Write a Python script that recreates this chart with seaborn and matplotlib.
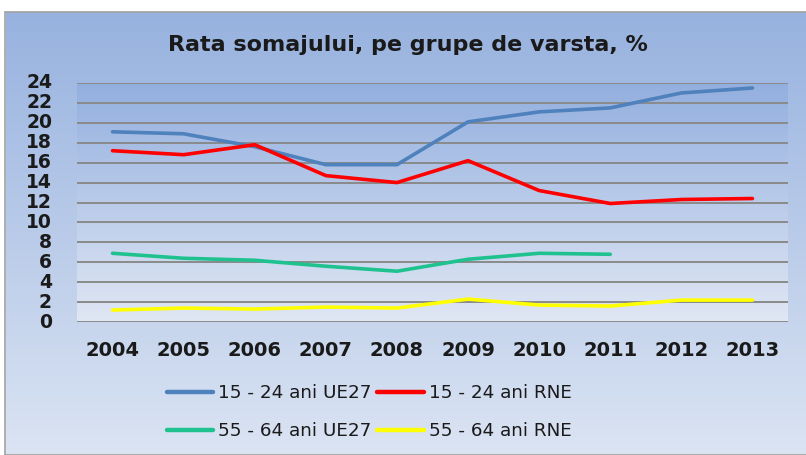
import numpy as np
import pandas as pd
import seaborn as sns
import matplotlib.pyplot as plt
from matplotlib.colors import LinearSegmentedColormap
from matplotlib.patches import Rectangle

# --- Data ---
years = [2004, 2005, 2006, 2007, 2008, 2009, 2010, 2011, 2012, 2013]
ue27_15_24 = [19.1, 18.9, 17.6, 15.8, 15.8, 20.1, 21.1, 21.5, 23.0, 23.5]
rne_15_24 = [17.2, 16.8, 17.8, 14.7, 14.0, 16.2, 13.2, 11.9, 12.3, 12.4]
ue27_55_64 = [6.9, 6.4, 6.2, 5.6, 5.1, 6.3, 6.9, 6.8, np.nan, np.nan]
rne_55_64 = [1.2, 1.4, 1.3, 1.5, 1.4, 2.3, 1.7, 1.6, 2.2, 2.2]

series_names = ['15 - 24 ani UE27', '15 - 24 ani RNE', '55 - 64 ani UE27', '55 - 64 ani RNE']
series_colors = ['#4f81bd', '#ff0000', '#1fc28f', '#ffff00']
y_ticks = list(range(0, 25, 2))

df = pd.DataFrame({
    'year': years * 4,
    'value': ue27_15_24 + rne_15_24 + ue27_55_64 + rne_55_64,
    'serie': sum([[n] * len(years) for n in series_names], []),
})

# --- Appearance ---
sns.set_theme(style="white")
plt.rcParams['font.family'] = ['DejaVu Sans']
plt.rcParams['text.color'] = '#1a1a1a'

fig = plt.figure(figsize=(8.06, 4.55), dpi=100)
fig.patch.set_facecolor('white')

# chart background gradient (frame starts a bit below top edge)
bg_cmap = LinearSegmentedColormap.from_list('bg', ['#97b2df', '#dbe4f3'])
bg = fig.add_axes([6 / 806, 0, 1 - 6 / 806, 1 - 12 / 455], zorder=-2)
bg.imshow(np.linspace(0, 1, 256).reshape(-1, 1), aspect='auto', cmap=bg_cmap,
          extent=[0, 1, 0, 1])
bg.set_axis_off()
fig.patches.append(Rectangle((5 / 806, 0), 1, 1 - 12 / 455, transform=fig.transFigure,
                             fill=False, edgecolor='#a0a0a0', linewidth=1.2, zorder=-1))

ax = fig.add_axes([77 / 806, 1 - 322 / 455, 711 / 806, 239 / 455])
plot_cmap = LinearSegmentedColormap.from_list('pl', ['#93afdf', '#e0e7f4'])
ax.imshow(np.linspace(0, 1, 256).reshape(-1, 1), aspect='auto', cmap=plot_cmap,
          extent=[2003.5, 2013.5, 0, 24], zorder=0)

sns.lineplot(data=df, x='year', y='value', hue='serie', hue_order=series_names,
             palette=series_colors, linewidth=2.6, ax=ax, legend=False, zorder=3)

ax.set_xlim(2003.5, 2013.5)
ax.set_ylim(0, 24)
ax.set_xticks(years)
ax.set_xticklabels([str(y) for y in years])
ax.set_yticks(y_ticks)
ax.yaxis.grid(True, color='#8a8a8a', linewidth=1.4)
for gl in ax.get_ygridlines():
    gl.set_zorder(1)
ax.xaxis.grid(False)
ax.tick_params(axis='both', length=0, labelcolor='#1a1a1a')
ax.tick_params(axis='y', pad=18, labelsize=13.5)
ax.tick_params(axis='x', pad=14, labelsize=14)
for lbl in ax.get_xticklabels() + ax.get_yticklabels():
    lbl.set_fontweight('bold')
for lbl in ax.get_yticklabels():
    lbl.set_verticalalignment('center')
for s in ax.spines.values():
    s.set_visible(False)
ax.set_xlabel('')
ax.set_ylabel('')

fig.text(0.506, 1 - 45 / 455, 'Rata somajului, pe grupe de varsta, %',
         ha='center', va='center', fontsize=16, fontweight='bold')

# legend filled column-wise: blue/green in first column, red/yellow in second
order = [0, 2, 1, 3]
handles = [plt.Line2D([], [], color=series_colors[i], linewidth=3.2) for i in order]
labels = [series_names[i] for i in order]
fig.legend(handles, labels, ncol=2, loc='center', bbox_to_anchor=(369 / 806, 1 - 412 / 455),
           frameon=False, fontsize=13.2, handlelength=2.56, handletextpad=0.25,
           columnspacing=0.3, labelspacing=1.1)

plt.savefig('out.png', dpi=100)
plt.close()
